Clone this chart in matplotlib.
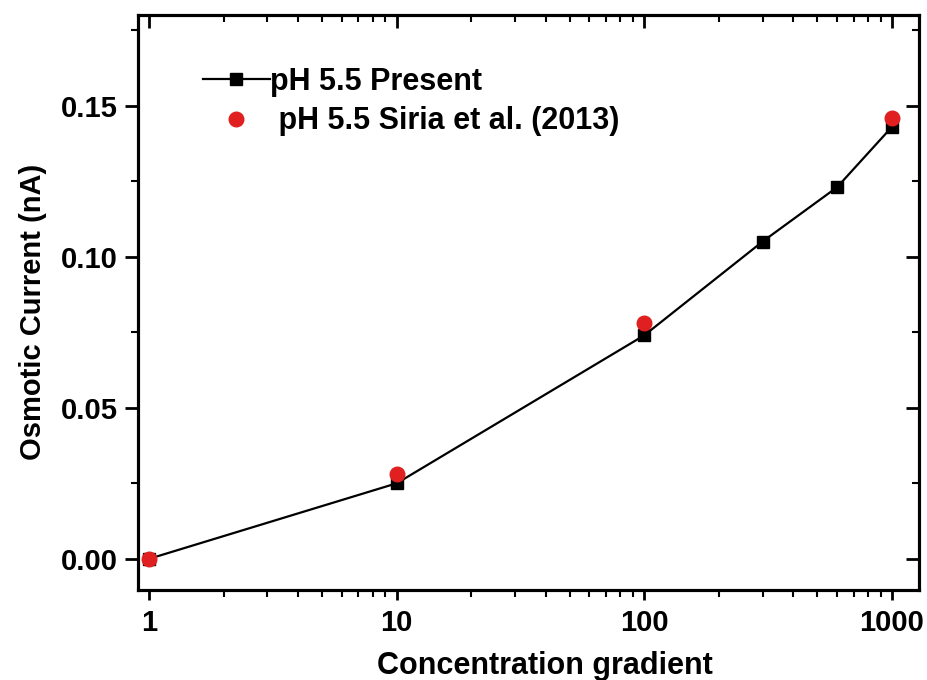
import numpy as np
import matplotlib
matplotlib.use("Agg")
import matplotlib.pyplot as plt
from matplotlib.ticker import MultipleLocator, LogLocator, NullFormatter, FixedLocator

plt.rcParams['font.family'] = ['Liberation Sans', 'DejaVu Sans']
plt.rcParams['font.weight'] = 'bold'

# data
x_present = [1, 10, 100, 300, 600, 1000]
y_present = [0.0, 0.025, 0.074, 0.105, 0.123, 0.143]
x_siria = [1, 10, 100, 1000]
y_siria = [0.0, 0.028, 0.078, 0.146]
xtick_vals = [1, 10, 100, 1000]
xtick_labels = ['1', '10', '100', '1000']

fig = plt.figure(figsize=(9.27, 6.8), dpi=100)
ax = fig.add_axes([0.1489, 0.1324, 0.8425, 0.8456])

ax.plot(x_present, y_present, color='black', lw=1.6, marker='s', ms=9,
        label='pH 5.5 Present')
ax.plot(x_siria, y_siria, ls='none', color='#e02020', marker='o', ms=10.5,
        label=' pH 5.5 Siria et al. (2013)')

ax.set_xscale('log')
ax.set_xlim(0.903, 1285)
ax.set_ylim(-0.0103, 0.180)

ax.xaxis.set_major_locator(FixedLocator(xtick_vals))
ax.set_xticklabels(xtick_labels)
ax.xaxis.set_minor_locator(LogLocator(base=10, subs=np.arange(2, 10)))
ax.xaxis.set_minor_formatter(NullFormatter())
ax.yaxis.set_major_locator(MultipleLocator(0.05))
ax.yaxis.set_minor_locator(MultipleLocator(0.025))
ax.yaxis.set_major_formatter(plt.FuncFormatter(lambda v, p: '%.2f' % v))

for s in ax.spines.values():
    s.set_linewidth(2.2)

ax.tick_params(which='major', direction='out', length=8, width=2, labelsize=21,
               top=False, right=False)
ax.tick_params(axis='y', which='major', length=9.5, pad=5)
ax.tick_params(axis='x', which='major', length=7.5, pad=6)
ax.tick_params(which='minor', direction='out', length=5, width=1.5,
               top=False, right=False)
# inward ticks on the top and right sides
ax2 = ax.twinx()
ax2.set_ylim(ax.get_ylim())
ax2.yaxis.set_major_locator(MultipleLocator(0.05))
ax2.yaxis.set_minor_locator(MultipleLocator(0.025))
ax2.tick_params(which='major', direction='in', length=9.5, width=2, labelright=False)
ax2.tick_params(which='minor', direction='in', length=5, width=1.5)
ax3 = ax.twiny()
ax3.set_xscale('log')
ax3.set_xlim(ax.get_xlim())
ax3.xaxis.set_major_locator(FixedLocator(xtick_vals))
ax3.xaxis.set_minor_locator(LogLocator(base=10, subs=np.arange(2, 10)))
ax3.xaxis.set_minor_formatter(NullFormatter())
ax3.tick_params(which='major', direction='in', length=9, width=2, labeltop=False)
ax3.tick_params(which='minor', direction='in', length=5, width=1.5)
for a in (ax2, ax3):
    for s in a.spines.values():
        s.set_linewidth(2.2)

for lab in ax.get_xticklabels() + ax.get_yticklabels():
    lab.set_fontweight('bold')

ax.set_xlabel('Concentration gradient', fontsize=22, fontweight='bold')
ax.xaxis.set_label_coords(0.521, -0.106)
ax.set_ylabel('Osmotic Current (nA)', fontsize=21, fontweight='bold')
ax.yaxis.set_label_coords(-0.117, 0.483)

ax.legend(loc='upper left', bbox_to_anchor=(0.083, 0.91), frameon=False,
          handlelength=2.2, handletextpad=0.0, borderaxespad=0, borderpad=0,
          labelspacing=0.32, prop={'weight': 'bold', 'size': 22})

fig.savefig('out.png', dpi=100)
